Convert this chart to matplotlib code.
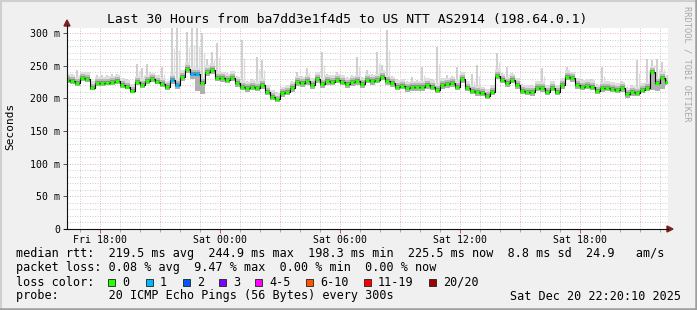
import matplotlib
matplotlib.use("Agg")
import matplotlib.pyplot as plt
import numpy as np
from matplotlib.lines import Line2D
from matplotlib.patches import Polygon, Rectangle

W, H = 697, 310
MONO = "DejaVu Sans Mono"

# samples every 15 min, hours since Fri 16:20 (graph end Sat 22:20)
sample_step_h = 0.25

median_ms = [
    228, 226.5, 223, 230.6, 229.6, 216.3, 223, 223, 224, 224.5,
    226.5, 220.4, 218, 211.7, 224.5, 220.4, 226.5, 229, 225.5, 221.5,
    216.8, 228, 220.4, 233, 244.9, 238, 236.7, 223, 240.8, 243.4,
    231.6, 230.6, 228, 231.6, 223, 218, 215.3, 218, 216.3, 220.4,
    210, 202.5, 198.3, 207.7, 210, 215.3, 224.5, 223, 226.5, 220.4,
    229.6, 221.5, 226.5, 225.5, 228, 225.5, 221.5, 224.5, 226.5, 221.5,
    228, 226.5, 228, 233, 226.5, 223, 218, 219.4, 215.3, 216.8,
    216.8, 217.3, 220.4, 218, 212.8, 220.4, 221.5, 223, 218, 229.6,
    216.3, 211.2, 209.2, 207.7, 204, 210, 234.7, 228, 223, 228,
    220.4, 211.2, 210.2, 209.2, 216.3, 215.3, 210.2, 216.3, 210.2, 220.4,
    233, 230.6, 220.4, 218, 219.4, 218, 211.2, 215.3, 216.3, 214.3,
    212.8, 215.3, 206.1, 209.2, 207.7, 212.8, 215.3, 239.8, 223, 230.6,
    225.5,
]

ping_max_ms = [
    238, 237, 243, 241, 240, 226, 236, 236, 236, 238,
    237, 231, 229, 222, 253, 246, 253, 239, 236, 248,
    227, 310, 310, 243, 302, 310, 310, 300, 261, 271,
    285, 241, 239, 242, 234, 290, 226, 229, 264, 259,
    221, 213, 210, 218, 221, 226, 241, 234, 246, 231,
    240, 271, 237, 236, 241, 236, 232, 235, 264, 232,
    243, 237, 271, 251, 305, 234, 229, 230, 226, 232,
    228, 248, 231, 229, 279, 231, 236, 234, 248, 240,
    227, 238, 251, 218, 215, 221, 269, 239, 248, 239,
    231, 222, 221, 220, 227, 246, 221, 227, 221, 231,
    248, 241, 231, 229, 230, 229, 222, 248, 227, 225,
    224, 226, 217, 220, 259, 224, 261, 258, 260, 255,
    236,
]

ping_min_ms = [
    224, 222.5, 219, 226.6, 225.6, 212.3, 219, 219, 220, 220.5,
    222.5, 216.4, 214, 207.7, 220.5, 216.4, 222.5, 225, 221.5, 217.5,
    212.8, 222, 214, 227, 239, 230, 212, 207, 234, 237,
    226, 225, 223, 226, 218, 213, 210, 213, 211, 215,
    205, 197, 194.5, 202, 205, 210, 219, 218, 221, 215,
    224, 216, 221, 220, 223, 220, 216, 219, 221, 216,
    223, 221, 223, 228, 221, 218, 213, 214, 210, 212,
    212, 212, 215, 213, 208, 215, 216, 218, 213, 224,
    211, 206, 204, 203, 199, 205, 229, 223, 218, 223,
    215, 206, 205, 204, 211, 210, 205, 211, 205, 215,
    228, 225, 215, 213, 214, 213, 206, 210, 211, 209,
    208, 210, 201, 204, 203, 208, 212, 213, 212, 214,
    220,
]

# samples where 1 of 20 pings was lost, everything else 0
loss_1_idx = [21, 22, 25, 26]

y_ticks = [0, 50, 100, 150, 200, 250, 300]
y_labels = ["0", "50 m", "100 m", "150 m", "200 m", "250 m", "300 m"]
x_tick_pos = [1.667, 7.667, 13.667, 19.667, 25.667]
x_labels = ["Fri 18:00", "Sat 00:00", "Sat 06:00", "Sat 12:00", "Sat 18:00"]

loss_labels = ["0", "1", "2", "3", "4-5", "6-10", "11-19", "20/20"]
loss_colors = ["#26ff00", "#00b8ff", "#0059ff", "#7e00ff", "#ff00ff",
               "#ff5500", "#ff0000", "#a10000"]
loss_box_x = [108, 146, 183, 219, 255, 306, 364, 429]


def fx(x):
    return x / W


def fy(y):
    return 1 - y / H


fig = plt.figure(figsize=(W / 100, H / 100), dpi=100, facecolor="#f0f0f0")
ax = fig.add_axes([fx(67), fy(229), 601 / W, 201 / H])
ax.set_facecolor("white")

t = np.arange(len(median_ms)) * sample_step_h
med = np.array(median_ms)
pmax = np.array(ping_max_ms)
pmin = np.array(ping_min_ms)

# grid
for v in range(0, 310, 10):
    if v % 50 == 0:
        ax.axhline(v, color="#e49a9a", lw=0.6, ls=(0, (1, 2)), zorder=0)
    else:
        ax.axhline(v, color="#bdbdbd", lw=0.6, ls=(0, (1, 2)), zorder=0)
for k in range(31):
    h = 0.667 + k
    if h > 30:
        break
    if k % 3 == 1:
        ax.axvline(h, color="#e49a9a", lw=0.6, ls=(0, (1, 2)), zorder=0)
    else:
        ax.axvline(h, color="#bdbdbd", lw=0.6, ls=(0, (1, 2)), zorder=0)

# smoke: thin wisps up to the slowest ping, a band and darker layers near the median
ax.vlines(t, med, pmax, colors="#cccccc", lw=1.3, zorder=1)
ax.vlines(t + 0.09, med, med + (pmax - med) * 0.6, colors="#dddddd", lw=1.0, zorder=1)
ax.fill_between(t, med, np.minimum(pmax, med + 10), step="mid",
                color="#dedede", lw=0, zorder=1)
for cap, col in [(6, "#b8b8b8"), (3, "#8a8a8a")]:
    ax.fill_between(t, med, np.minimum(pmax, med + cap), step="mid",
                    color=col, lw=0, zorder=1)
ax.fill_between(t, pmin, med, step="mid", color="#b0b0b0", lw=0, zorder=1)
ax.fill_between(t, np.maximum(pmin, med - 3), med, step="mid",
                color="#6a6a6a", lw=0, zorder=1)

# median line coloured by loss
ax.step(t, med, where="mid", color="black", lw=0.8, zorder=3)
seg_colors = [loss_colors[1] if i in loss_1_idx else loss_colors[0]
              for i in range(len(med))]
ax.hlines(med, t - 0.09, t + 0.09, colors=seg_colors, lw=2.3, zorder=4)

ax.set_xlim(0, 30.05)
ax.set_ylim(0, 307.7)
for s in ax.spines.values():
    s.set_visible(False)

ax.set_yticks(y_ticks)
ax.set_yticklabels(y_labels, family=MONO, fontsize=7.1)
ax.set_xticks(x_tick_pos)
ax.set_xticklabels(x_labels, family=MONO, fontsize=7.1)
ax.set_xticks([0.667 + k for k in range(30)], minor=True)
ax.tick_params(axis="y", length=3, width=0.7, color="#555555", pad=2)
ax.tick_params(axis="x", which="major", length=3, width=0.7, color="#c05050", pad=1.5)
ax.tick_params(axis="x", which="minor", length=2, width=0.6, color="#999999")

# axes with arrows
fig.add_artist(Line2D([fx(67), fx(67)], [fy(229), fy(25)], color="#101010", lw=0.8))
fig.add_artist(Line2D([fx(64), fx(668)], [fy(229), fy(229)], color="#101010", lw=0.8))
fig.add_artist(Polygon([[fx(64), fy(26)], [fx(70), fy(26)], [fx(67), fy(20)]],
                       closed=True, color="#7f1f1f", transform=fig.transFigure))
fig.add_artist(Polygon([[fx(667), fy(226)], [fx(667), fy(232)], [fx(673), fy(229)]],
                       closed=True, color="#7f1f1f", transform=fig.transFigure))

# frame shading
fig.add_artist(Line2D([0, 1], [fy(0.5), fy(0.5)], color="#cfcfcf", lw=1.5))
fig.add_artist(Line2D([fx(0.5), fx(0.5)], [0, 1], color="#cfcfcf", lw=1.5))
fig.add_artist(Line2D([0, 1], [fy(309), fy(309)], color="#9e9e9e", lw=1.8))
fig.add_artist(Line2D([fx(696), fx(696)], [0, 1], color="#9e9e9e", lw=1.8))

fig.text(fx(347), fy(19), "Last 30 Hours from ba7dd3e1f4d5 to US NTT AS2914 (198.64.0.1)",
         family=MONO, fontsize=9.4, ha="center", va="center")
fig.text(fx(10), fy(126), "Seconds", family=MONO, fontsize=8, rotation=90,
         ha="center", va="center")
fig.text(fx(687), fy(6), "RRDTOOL / TOBI OETIKER", family=MONO, fontsize=6.3,
         rotation=270, ha="center", va="top", color="#a8a8a8")

fs = 8.45
fig.text(fx(16), fy(254),
         "median rtt:  219.5 ms avg  244.9 ms max  198.3 ms min  225.5 ms now  8.8 ms sd  24.9   am/s",
         family=MONO, fontsize=fs, va="center")
fig.text(fx(16), fy(268),
         "packet loss: 0.08 % avg  9.47 % max  0.00 % min  0.00 % now",
         family=MONO, fontsize=fs, va="center")
fig.text(fx(16), fy(282), "loss color:", family=MONO, fontsize=fs, va="center")
for bx, lab, col in zip(loss_box_x, loss_labels, loss_colors):
    fig.add_artist(Rectangle((fx(bx), fy(285.5)), 7 / W, 7 / H, facecolor=col,
                             edgecolor="#202020", lw=0.6, transform=fig.transFigure))
    fig.text(fx(bx + 14), fy(282), lab, family=MONO, fontsize=fs, va="center")
fig.text(fx(16), fy(296), "probe:       20 ICMP Echo Pings (56 Bytes) every 300s",
         family=MONO, fontsize=fs, va="center")
fig.text(fx(681), fy(296), "Sat Dec 20 22:20:10 2025", family=MONO, fontsize=fs,
         va="center", ha="right")

fig.savefig("out.png", dpi=100, facecolor=fig.get_facecolor())
